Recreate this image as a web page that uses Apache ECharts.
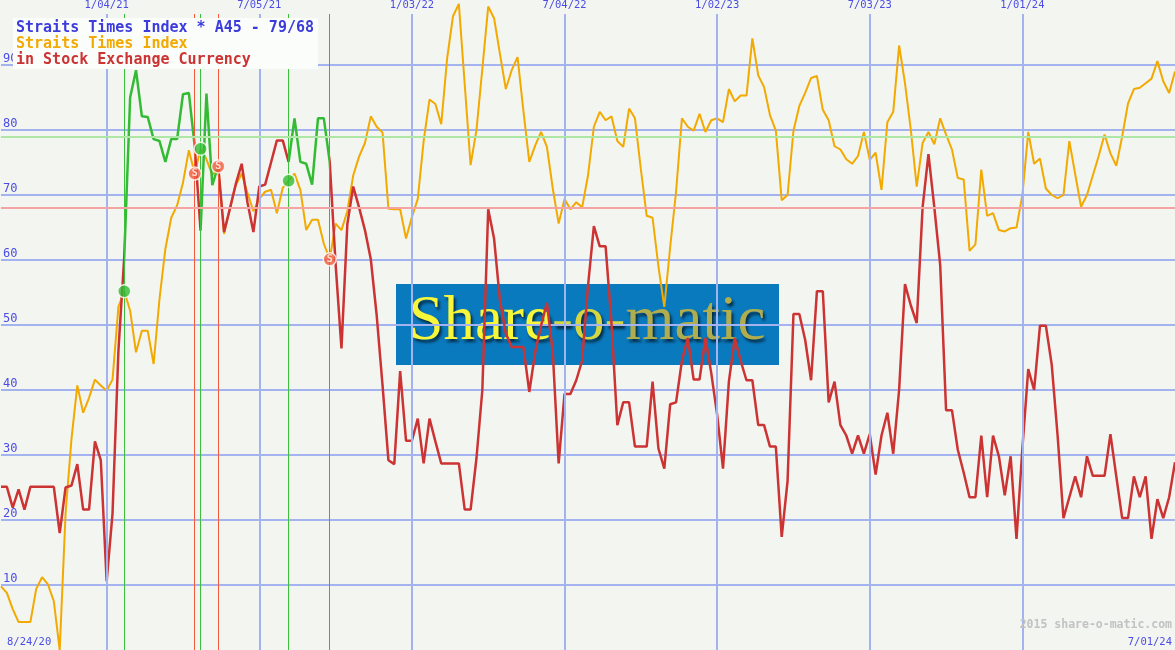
<!DOCTYPE html>
<html><head><meta charset="utf-8">
<script src="https://cdn.jsdelivr.net/npm/echarts@6/dist/echarts.min.js"></script>
<style>html,body{margin:0;padding:0;background:#f3f5f1}#c{width:1175px;height:650px}</style>
</head><body><div id="c"></div>
<script>
// Weekly values, week 0 = 8/31/20 ... week 200 = 7/01/24
const priceSeries = [
9.8,8.8,6.3,4.3,4.3,4.3,9.4,11.2,10.1,7.5,
0,21,32.4,40.7,36.5,38.8,41.6,40.7,39.9,41.6,
52.8,55.2,52.2,45.8,49.1,49.1,44,54,61.7,66.5,
68.4,71.9,76.9,73.3,77.1,75.5,73,74.4,64,68,
71.5,73.3,70.3,67.5,69.4,70.5,70.8,67.2,71.1,72.2,
73.3,70.8,64.6,66.2,66.2,62.5,60.1,65.6,64.6,67.5,
73,75.9,78,82.1,80.5,79.6,67.9,67.8,67.8,63.3,
66.6,69.4,78.3,84.7,84,80.9,91,97.5,99.4,87,
74.6,80,89.4,99,97.2,91.7,86.3,89.2,91.2,82.9,
75.1,77.6,79.7,77.4,71,65.6,69.4,67.8,68.9,68.1,
73,80.5,82.8,81.5,82.1,78.3,77.4,83.3,81.8,74,
66.8,66.5,59,52.8,62,70.5,81.8,80.5,79.9,82.5,
79.7,81.5,81.8,81.2,86.3,84.4,85.3,85.3,94.1,88.4,
86.6,82.3,79.9,69.2,70,79.9,83.7,85.7,88,88.3,
83.1,81.5,77.5,77,75.5,74.8,76,79.7,75.4,76.5,
70.8,81.2,82.8,93,87.2,80,71.3,78,79.7,77.8,
81.8,79.3,77,72.6,72.4,61.4,62.4,73.9,66.8,67.2,
64.6,64.4,64.9,65,70,79.7,74.8,75.6,71,70,
69.5,70,78.3,73.2,68.2,70,73,76,79.3,76.4,
74.5,79,84.1,86.3,86.5,87.2,87.9,90.6,87.5,85.7,
89];
const indicatorSeries = [
25.1,25.1,21.9,24.7,21.6,25.1,25.1,25.1,25.1,25.1,
18,25,25.3,28.6,21.6,21.6,32.1,29.2,10.6,21,
46,60.5,85,89.2,82.1,82,78.6,78.3,75.1,78.6,
78.6,85.5,85.7,77.5,64.5,85.6,71.5,74.5,64.3,67.9,
71.7,74.8,68.8,64.3,71.3,71.6,75,78.4,78.4,75.1,
81.8,75.1,74.8,71.6,81.8,81.8,75.1,59.4,46.4,65.5,
71.3,68.1,64.6,60.1,51.5,40.7,29.2,28.6,42.9,32.2,
32.2,35.6,28.7,35.6,32.1,28.7,28.7,28.7,28.7,21.6,
21.6,29.5,40,67.8,63.3,53.8,48.7,46.6,46.6,46.6,
39.7,45.8,49.9,53.4,45.8,28.7,39.4,39.4,41.5,44.5,
56,65.2,62.1,62.1,50.3,34.6,38.1,38.1,31.3,31.3,
31.3,41.3,31,27.9,37.8,38.1,44.5,48,41.6,41.6,
48,42.6,36.2,27.9,41.3,48,44.5,41.5,41.5,34.6,
34.6,31.3,31.3,17.4,26,51.7,51.7,47.7,41.5,55.2,
55.2,38.1,41.3,34.6,33,30.2,33,30.2,33.2,27,
33,36.5,30.2,40,56.3,53,50.3,68.1,76.3,68.1,
59.2,36.9,36.9,30.8,27.3,23.5,23.5,33,23.5,33,
29.8,23.8,29.8,17.1,31,43.2,40,49.9,49.9,43.9,
33,20.3,23.5,26.7,23.5,29.8,26.8,26.8,26.8,33.2,
26.7,20.3,20.3,26.7,23.5,26.7,17.1,23.2,20.3,23.5,
28.9];
const buyWeeks = [21, 34, 49];
const sellWeeks = [33, 37, 56];
const gridWeeks = [18, 44, 70, 96, 122, 148, 174];
const gridLabels = ['1/04/21','7/05/21','1/03/22','7/04/22','1/02/23','7/03/23','1/01/24'];
const startLabel = '8/24/20';
const endLabel = '7/01/24';
const upperLevel = 79;
const lowerLevel = 68;
const titleLines = ['Straits Times Index * A45 - 79/68', 'Straits Times Index', 'in Stock Exchange Currency'];

const RED = '#cc3333', GREEN = '#33bb33', ORANGE = '#f2a900', BLUE = '#4c4ce6', GRID = '#a3b3ef';
const MONO = '"DejaVu Sans Mono", monospace';
const TOP = 97.85;

// visual pieces for the indicator: green while holding (buy -> next sell)
const pieces = [];
let prev = -Infinity;
const events = [];
buyWeeks.forEach(w => events.push({w, t: 'b'}));
sellWeeks.forEach(w => events.push({w, t: 's'}));
events.sort((a, b) => a.w - b.w);
let col = RED;
events.forEach(e => {
  pieces.push({gte: prev, lt: e.w, color: col});
  prev = e.w; col = e.t === 'b' ? GREEN : RED;
});
pieces.push({gte: prev, lte: Infinity, color: col});

const logoShadow = {textShadowColor: 'rgba(0,0,0,0.65)', textShadowBlur: 3, textShadowOffsetX: 2, textShadowOffsetY: 3,
  textStrokeColor: '#4a5030', textStrokeWidth: 0.8};

const chart = echarts.init(document.getElementById('c'), null, {renderer: 'canvas'});
chart.setOption({
  animation: false,
  backgroundColor: '#f3f5f1',
  grid: {left: 0, right: 0, top: 0, bottom: 0, containLabel: false},
  xAxis: {type: 'value', min: 0, max: 200, show: false},
  yAxis: {
    type: 'value', min: 0, max: 100, interval: 10,
    axisLine: {show: false}, axisTick: {show: false},
    splitLine: {show: true, showMinLine: false, showMaxLine: false, lineStyle: {color: GRID, width: 2}},
    axisLabel: {inside: true, showMinLabel: false, showMaxLabel: false, verticalAlign: 'bottom', margin: 2,
      color: BLUE, fontSize: 12, fontFamily: MONO}
  },
  visualMap: {type: 'piecewise', show: false, dimension: 0, seriesIndex: 4, pieces: pieces},
  series: [
    {type: 'line', data: [], z: 1, silent: true,
      markLine: {silent: true, symbol: ['none', 'none'], animation: false,
        lineStyle: {color: GRID, width: 2, type: 'solid'},
        label: {show: true, position: 'end', distance: 3, formatter: p => p.name, color: BLUE, fontSize: 10.5, fontFamily: MONO},
        data: gridWeeks.map((w, i) => [{name: gridLabels[i], coord: [w, 0]}, {coord: [w, TOP]}])}},
    {type: 'line', data: [], z: 1, silent: true,
      markLine: {silent: true, symbol: ['none', 'none'], animation: false, label: {show: false},
        data: [
          ...buyWeeks.map(w => [{coord: [w, 0], lineStyle: {color: '#3cc03c', width: 1, type: 'solid'}}, {coord: [w, TOP]}]),
          ...sellWeeks.map(w => [{coord: [w, 0], lineStyle: {color: '#f25a3a', width: 1, type: 'solid'}}, {coord: [w, TOP]}])
        ]}},
    {type: 'line', data: [], z: 1, silent: true,
      markLine: {silent: true, symbol: ['none', 'none'], animation: false, label: {show: false},
        data: [
          {yAxis: upperLevel, lineStyle: {color: '#aee6a6', width: 2, type: 'solid'}},
          {yAxis: lowerLevel, lineStyle: {color: '#f4a4a4', width: 2, type: 'solid'}}
        ]}},
    {type: 'line', name: 'price', z: 3, data: priceSeries.map((v, i) => [i, v]), showSymbol: false,
      lineStyle: {color: ORANGE, width: 2}, itemStyle: {color: ORANGE}},
    {type: 'line', name: 'indicator', z: 4, data: indicatorSeries.map((v, i) => [i, v]), showSymbol: false,
      lineStyle: {width: 2.5}},
    {type: 'scatter', z: 6, symbolSize: 13, data: buyWeeks.map(w => [w, priceSeries[w]]),
      itemStyle: {color: GREEN, borderColor: '#ffffff', borderWidth: 1.5}},
    {type: 'scatter', z: 6, symbolSize: 13, data: sellWeeks.map(w => [w, priceSeries[w]]),
      itemStyle: {color: '#f05a3a', borderColor: '#ffffff', borderWidth: 1.5},
      label: {show: true, position: 'inside', formatter: 'S', color: '#ffffff', fontSize: 10, fontWeight: 'bold', fontFamily: MONO}}
  ],
  graphic: [
    {type: 'rect', z: -5, shape: {x: 396, y: 284, width: 383, height: 81}, style: {fill: '#0a7abf'}},
    {type: 'text', z: -4, x: 587, y: 322, style: {
      text: '{a|Share}{b|-o-}{c|matic}', textAlign: 'center', textVerticalAlign: 'middle',
      font: '63px "Liberation Serif", serif',
      rich: {
        a: Object.assign({fill: '#f6f63a', font: '63px "Liberation Serif", serif'}, logoShadow),
        b: Object.assign({fill: '#d6d640', font: '63px "Liberation Serif", serif'}, logoShadow),
        c: Object.assign({fill: '#b0ad4e', font: '63px "Liberation Serif", serif'}, logoShadow)
      }}},
    {type: 'rect', z: 100, shape: {x: 13, y: 18, width: 305, height: 51}, style: {fill: '#fbfdfb'}},
    {type: 'text', z: 101, x: 16, y: 28, style: {text: titleLines[0], font: 'bold 15px ' + MONO, fill: '#3c3cdc', textVerticalAlign: 'middle'}},
    {type: 'text', z: 101, x: 16, y: 44, style: {text: titleLines[1], font: 'bold 15px ' + MONO, fill: '#f2a900', textVerticalAlign: 'middle'}},
    {type: 'text', z: 101, x: 16, y: 60, style: {text: titleLines[2], font: 'bold 15px ' + MONO, fill: '#cc3333', textVerticalAlign: 'middle'}},
    {type: 'text', z: 50, x: 1172, y: 625, style: {text: '2015 share-o-matic.com', font: 'bold 11.5px ' + MONO, fill: '#c2c2c2', textAlign: 'right', textVerticalAlign: 'middle'}},
    {type: 'text', z: 50, x: 7, y: 642, style: {text: startLabel, font: '10.5px ' + MONO, fill: BLUE, textAlign: 'left', textVerticalAlign: 'middle'}},
    {type: 'text', z: 50, x: 1172, y: 642, style: {text: endLabel, font: '10.5px ' + MONO, fill: BLUE, textAlign: 'right', textVerticalAlign: 'middle'}}
  ]
});
</script></body></html>
